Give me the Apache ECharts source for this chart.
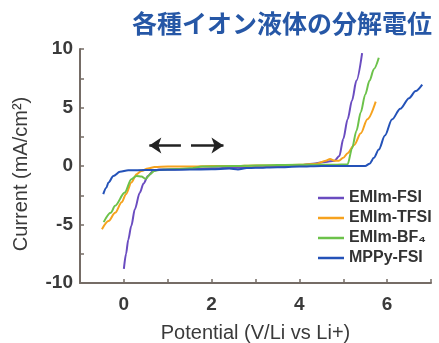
<!DOCTYPE html>
<html>
<head>
<meta charset="utf-8">
<script src="https://cdn.jsdelivr.net/npm/echarts@6/dist/echarts.min.js"></script>
<style>html,body{margin:0;padding:0;background:#fff;}#c{width:439px;height:343px;}</style>
</head>
<body>
<div id="c"></div>
<script>
var titleText = '各種イオン液体の分解電位';
var xName = 'Potential (V/Li vs Li+)';
var yName = 'Current (mA/cm²)';
var seriesNames = ['EMIm-FSI', 'EMIm-TFSI', 'EMIm-BF₄', 'MPPy-FSI'];
var seriesColors = ['#6a4cc0', '#f6a21e', '#6cc24a', '#2452b8'];

var fsiX = [0.0, 0.05, 0.1, 0.17, 0.25, 0.36, 0.45, 0.55, 0.66, 0.8, 1.0, 1.5, 2.0, 2.5, 3.0, 3.5, 4.0, 4.3, 4.6, 4.8, 4.91, 5.0, 5.1, 5.2, 5.3, 5.43];
var fsiY = [-8.8, -7.5, -6.3, -5.1, -3.7, -2.3, -1.5, -0.85, -0.45, -0.3, -0.3, -0.25, -0.2, -0.15, -0.1, -0.05, 0.05, 0.2, 0.35, 0.45, 0.85, 2.3, 4.0, 5.6, 7.3, 9.65];

var tfsiX = [-0.5, -0.35, -0.2, -0.05, 0.05, 0.17, 0.29, 0.4, 0.55, 0.7, 1.0, 1.5, 2.0, 2.5, 3.0, 3.5, 4.0, 4.4, 4.6, 4.7, 4.8, 4.9, 5.0, 5.1, 5.25, 5.4, 5.55, 5.74];
var tfsiY = [-5.4, -4.7, -4.0, -3.1, -2.4, -1.4, -0.7, -0.42, -0.22, -0.08, -0.05, -0.05, 0.0, 0.0, 0.05, 0.05, 0.1, 0.2, 0.45, 0.6, 0.45, 0.45, 0.7, 1.1, 1.8, 2.8, 4.0, 5.5];

var bf4X = [-0.46, -0.3, -0.2, 0.02, 0.17, 0.29, 0.4, 0.5, 0.6, 0.7, 0.9, 1.2, 1.5, 1.8, 2.5, 3.0, 4.0, 4.8, 5.1, 5.2, 5.3, 5.4, 5.5, 5.6, 5.7, 5.81];
var bf4Y = [-4.8, -4.0, -3.4, -2.27, -1.13, -0.85, -0.9, -1.1, -0.7, -0.4, -0.3, -0.25, -0.2, -0.05, 0.0, 0.05, 0.1, 0.1, 0.15, 1.5, 3.0, 4.6, 6.1, 7.3, 8.3, 9.25];

var mppyX = [-0.47, -0.4, -0.35, -0.24, -0.09, 0.1, 0.5, 1.0, 1.5, 2.0, 2.4, 2.6, 2.8, 3.0, 3.5, 4.0, 4.5, 5.0, 5.5, 5.6, 5.7, 5.81, 5.95, 6.11, 6.3, 6.5, 6.65, 6.8];
var mppyY = [-2.4, -1.85, -1.4, -0.85, -0.5, -0.37, -0.35, -0.32, -0.3, -0.28, -0.22, -0.3, -0.18, -0.15, -0.1, -0.05, 0, 0, 0, 0.2, 0.7, 1.4, 2.6, 3.97, 4.9, 5.8, 6.4, 6.95];

var xTickLabels = ['0', '2', '4', '6'];
var yTickLabels = ['-10', '-5', '0', '5', '10'];

var arrowLeft = [[1.3, 1.75], [0.58, 1.75]];
var arrowRight = [[1.53, 1.75], [2.27, 1.75]];

function pairs(xs, ys) { return xs.map(function (x, i) { return [x, ys[i]]; }); }
var allX = [fsiX, tfsiX, bf4X, mppyX];
var allY = [fsiY, tfsiY, bf4Y, mppyY];

var axisColor = '#756c66';
var labelStyle = { color: '#3a3a3a', fontSize: 19, fontWeight: 'bold', fontFamily: 'Liberation Sans' };

var series = seriesNames.map(function (n, i) {
  return {
    name: n, type: 'line', data: pairs(allX[i], allY[i]),
    showSymbol: false, smooth: 0.3, smoothMonotone: 'x',
    lineStyle: { color: seriesColors[i], width: 2 }, itemStyle: { color: seriesColors[i] },
    animation: false
  };
});
series.push({
  type: 'line', data: [], silent: true, animation: false,
  markLine: {
    silent: true, symbol: ['none', 'arrow'], symbolSize: [12, 12],
    label: { show: false },
    lineStyle: { color: '#222', width: 2.5, type: 'solid' },
    data: [
      [{ coord: arrowLeft[0] }, { coord: arrowLeft[1] }],
      [{ coord: arrowRight[0] }, { coord: arrowRight[1] }]
    ]
  }
});

var chart = echarts.init(document.getElementById('c'), null, { renderer: 'canvas' });
chart.setOption({
  backgroundColor: '#fff',
  animation: false,
  title: {
    text: titleText, left: 127, top: 6,
    textStyle: { color: '#2657a6', fontSize: 25, fontWeight: 'bold', fontFamily: 'Noto Sans CJK JP' }
  },
  legend: {
    orient: 'vertical', left: 313, top: 185,
    data: seriesNames, icon: 'rect', itemWidth: 26, itemHeight: 2.5, itemGap: 4,
    textStyle: { color: '#333', fontSize: 16, lineHeight: 16, fontWeight: 'bold', fontFamily: 'Liberation Sans' }
  },
  grid: { left: 80, right: 8, top: 49, bottom: 60, containLabel: false, outerBoundsMode: 'none' },
  xAxis: {
    type: 'value', min: -1, max: 7, interval: 1,
    name: xName, nameLocation: 'middle', nameGap: 40,
    nameTextStyle: { color: '#3a3a3a', fontSize: 20, fontFamily: 'Liberation Sans' },
    axisLine: { onZero: false, lineStyle: { color: axisColor, width: 2 } },
    axisTick: { inside: true, length: 4, lineStyle: { color: axisColor, width: 1.5 } },
    axisLabel: Object.assign({ margin: 12, formatter: function (v) { return xTickLabels.indexOf(String(v)) >= 0 ? String(v) : ''; } }, labelStyle),
    splitLine: { show: false }
  },
  yAxis: {
    type: 'value', min: -10, max: 10, interval: 2.5,
    name: yName, nameLocation: 'middle', nameGap: 49,
    nameTextStyle: { color: '#3a3a3a', fontSize: 20, fontFamily: 'Liberation Sans', padding: [0, 0, 0, -16] },
    axisLine: { onZero: false, lineStyle: { color: axisColor, width: 2 } },
    axisTick: { inside: true, length: 4, lineStyle: { color: axisColor, width: 1.5 } },
    axisLabel: Object.assign({ margin: 7, formatter: function (v) { return yTickLabels.indexOf(String(v)) >= 0 ? String(v) : ''; } }, labelStyle),
    splitLine: { show: false }
  },
  series: series
});
</script>
</body>
</html>
